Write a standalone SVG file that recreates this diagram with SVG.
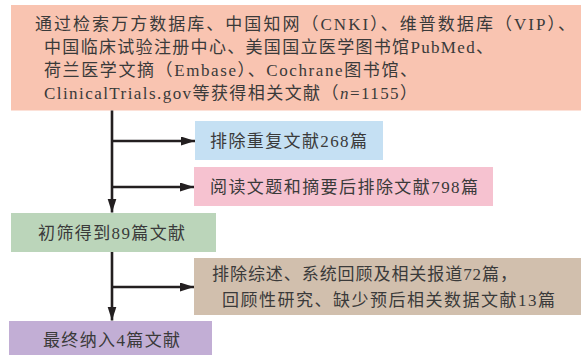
<svg xmlns="http://www.w3.org/2000/svg" width="581" height="355" viewBox="0 0 581 355">
<style>
  text { font-family: "Liberation Serif", "Noto Sans CJK SC", serif; font-size: 17px; fill: #3a3a3a; }
  .ln { stroke: #231F20; stroke-width: 2.6; fill: none; }
</style>
<defs>
  <marker id="ah" markerUnits="userSpaceOnUse" markerWidth="15" markerHeight="10" refX="14" refY="4.5" orient="auto">
    <path d="M0,0 L14,4.5 L0,9 Z" fill="#231F20"/>
  </marker>
</defs>
<rect width="581" height="355" fill="#ffffff"/>
<g id="n-source">
  <rect x="11" y="5" width="570" height="105.5" fill="#F9C4B1"/>
  <text x="35" y="30" textLength="540" lengthAdjust="spacing">通过检索万方数据库、中国知网（CNKI）、维普数据库（VIP）、</text>
  <text x="44" y="53" textLength="449" lengthAdjust="spacing">中国临床试验注册中心、美国国立医学图书馆PubMed、</text>
  <text x="44" y="76" textLength="373" lengthAdjust="spacing">荷兰医学文摘（Embase）、Cochrane图书馆、</text>
  <text x="44" y="99" textLength="373" lengthAdjust="spacing">ClinicalTrials.gov等获得相关文献（<tspan font-style="italic">n</tspan>=1155）</text>
</g>
<g id="n-dup">
  <rect x="195" y="121" width="188" height="39" fill="#C5E0F3"/>
  <text x="210" y="147" textLength="157" lengthAdjust="spacing">排除重复文献268篇</text>
</g>
<g id="n-title">
  <rect x="194" y="167" width="299" height="39" fill="#F6C2D0"/>
  <text x="210" y="193" textLength="268" lengthAdjust="spacing">阅读文题和摘要后排除文献798篇</text>
</g>
<g id="n-screen">
  <rect x="11" y="213" width="205" height="39" fill="#BBD5BA"/>
  <text x="38" y="239" textLength="147" lengthAdjust="spacing">初筛得到89篇文献</text>
</g>
<g id="n-exclude">
  <rect x="194" y="258" width="387" height="57" fill="#D1BFAD"/>
  <text x="212" y="280" textLength="305" lengthAdjust="spacing">排除综述、系统回顾及相关报道72篇，</text>
  <text x="222" y="306" textLength="333" lengthAdjust="spacing">回顾性研究、缺少预后相关数据文献13篇</text>
</g>
<g id="n-final">
  <rect x="9" y="321" width="203" height="34" fill="#C2AED5"/>
  <text x="43" y="346" textLength="137" lengthAdjust="spacing">最终纳入4篇文献</text>
</g>
<g id="connectors">
  <line class="ln" x1="112" y1="110.5" x2="112" y2="212.5" marker-end="url(#ah)"/>
  <line class="ln" x1="112" y1="141" x2="195" y2="141" marker-end="url(#ah)"/>
  <line class="ln" x1="112" y1="187" x2="194" y2="187" marker-end="url(#ah)"/>
  <line class="ln" x1="112" y1="252" x2="112" y2="320.5" marker-end="url(#ah)"/>
  <line class="ln" x1="112" y1="287" x2="194" y2="287" marker-end="url(#ah)"/>
</g>
</svg>
